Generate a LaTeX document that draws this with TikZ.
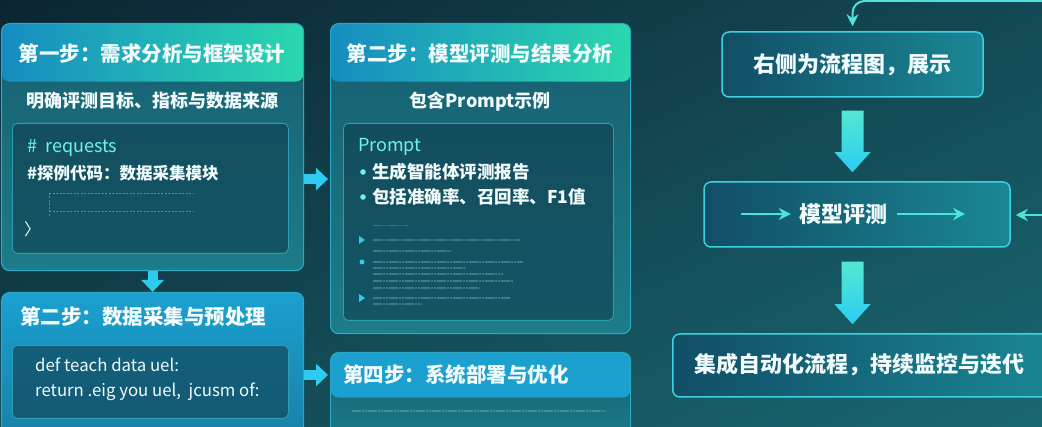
\documentclass[tikz,border=0pt]{standalone}
\usepackage{fontspec}
\setmainfont{Noto Sans CJK SC}
\usetikzlibrary{arrows.meta,calc}
\definecolor{bgtop}{HTML}{0A1D2B}
\definecolor{bgbot}{HTML}{1B7078}
\definecolor{cardtop}{HTML}{175E70}
\definecolor{cardbot}{HTML}{1C7C88}
\definecolor{cardedge}{HTML}{2AA8C4}
\definecolor{hdrleft}{HTML}{168CC0}
\definecolor{hdrright}{HTML}{2BD8AE}
\definecolor{bluetop}{HTML}{1BA0CF}
\definecolor{bluebot}{HTML}{1880A6}
\definecolor{codefill}{HTML}{0F3D4E}
\definecolor{codeedge}{HTML}{2F9CB4}
\definecolor{aqua}{HTML}{6FF2EA}
\definecolor{arrowcyan}{HTML}{2CCBEF}
\definecolor{fattop}{HTML}{55E6D2}
\definecolor{fatbot}{HTML}{2ACEF2}
\definecolor{flowedge}{HTML}{3CD2E4}
\definecolor{flowleft}{HTML}{114E66}
\definecolor{flowright}{HTML}{1A8794}
\definecolor{feedcyan}{HTML}{4DE3DA}
\definecolor{paper}{HTML}{F2FBFC}
\definecolor{ghost}{HTML}{8CC4D0}

\begin{document}
\begin{tikzpicture}[x=1pt, y=-1pt,
  card/.style={draw=cardedge, line width=1.2pt, rounded corners=8pt,
    top color=cardtop, bottom color=cardbot, inner sep=0pt, anchor=north west},
  header/.style={path picture={
    \shade[left color=hdrleft, right color=hdrright]
      (path picture bounding box.north west) rectangle
      ([yshift=-#1pt]path picture bounding box.north east);}},
  flatheader/.style={path picture={
    \fill[bluetop]
      (path picture bounding box.north west) rectangle
      ([yshift=-#1pt]path picture bounding box.north east);}},
  codebox/.style={draw=codeedge, line width=0.8pt, rounded corners=5pt,
    fill=codefill, fill opacity=0.6, inner sep=0pt, anchor=north west},
  cardtitle/.style={text=paper, font=\fontsize{20.5}{24}\selectfont\bfseries, inner sep=0pt},
  subtitle/.style={text=paper, font=\fontsize{18}{22}\selectfont\bfseries, inner sep=0pt},
  codeline/.style={text=paper, font=\fontsize{16.5}{20}\selectfont, inner sep=0pt, anchor=west},
  flowbox/.style={draw=flowedge, line width=1.5pt, rounded corners=7pt,
    left color=flowleft, right color=flowright, inner sep=0pt,
    text=paper, font=\fontsize{22}{26}\selectfont\bfseries},
  flowtext/.style={text=paper, font=\fontsize{22}{26}\selectfont\bfseries, inner sep=0pt},
  cardarrow/.style={draw=arrowcyan, line width=10pt,
    -{Triangle[length=12pt, width=22pt]}},
  feedarrow/.style={draw=feedcyan, line width=2pt,
    -{Stealth[length=12pt, width=12pt]}},
  ghosttext/.style={draw=ghost, draw opacity=0.35, line width=1.4pt,
    dash pattern=on 2.5pt off 0.7pt},
  faintdot/.style={draw=codeedge, line width=0.8pt, dash pattern=on 2pt off 1.5pt},
]
  \def\shaft{11}
  \def\head{18}
  \def\headlen{20}
  \useasboundingbox (0,0) rectangle (1042,427);
  \clip (0,0) rectangle (1042,427);
  \shade[top color=bgtop, bottom color=bgbot, shading angle=25]
    (-200,-200) rectangle (1242,627);

  % left column
  \node[card, header=58, minimum width=302, minimum height=247] (StepOne) at (1,23) {};
  \node[cardtitle] (StepOneTitle) at (152,54) {第一步：需求分析与框架设计};
  \node[subtitle] (StepOneSub) at (152,101) {明确评测目标、指标与数据来源};
  \node[codebox, minimum width=276, minimum height=130] (StepOneCode) at (12,123) {};
  \node[codeline, text=aqua, font=\fontsize{18}{21}\selectfont] (Requests) at (27,148) {\#\ \ requests};
  \node[codeline, font=\fontsize{16.5}{20}\selectfont\bfseries] (SampleCode) at (27,173) {\#探例代码：数据采集模块};
  \draw[faintdot] (49,193) -- (193,193) (49,211) -- (193,211) (49,193) -- (49,216);
  \node[codeline] (CloseMark) at (24,229) {〉};

  \node[card, top color=bluetop, bottom color=bluebot,
    minimum width=302, minimum height=150] (StepTwo) at (1,292) {};
  \node[cardtitle, anchor=west] (StepTwoTitle) at (20,317) {第二步：数据采集与预处理};
  \node[codebox, minimum width=276, minimum height=73] (StepTwoCode) at (12,345) {};
  \node[codeline, font=\fontsize{16.8}{20}\selectfont] (DefLine) at (35,365) {def teach data uel:};
  \node[codeline, font=\fontsize{16.8}{20}\selectfont] (ReturnLine) at (35,392) {return .eig you uel,\ \ jcusm of:};

  % middle column
  \node[card, header=58, minimum width=300, minimum height=310] (StepThree) at (330,23) {};
  \node[cardtitle] (StepThreeTitle) at (480,54) {第二步：模型评测与结果分析};
  \node[subtitle] (StepThreeSub) at (480,102) {包含Prompt示例};
  \node[codebox, minimum width=270, minimum height=197] (StepThreeCode) at (343,123) {};
  \node[codeline, text=aqua, font=\fontsize{18}{21}\selectfont] (PromptHead) at (358,147) {Prompt};
  \node[codeline, font=\fontsize{17.5}{21}\selectfont\bfseries] (BulletOne) at (372,172) {生成智能体评测报告};
  \node[codeline, font=\fontsize{17.5}{21}\selectfont\bfseries] (BulletTwo) at (372,197) {包括准确率、召回率、F1值};
  \fill[aqua] ([xshift=-9pt]BulletOne.west) circle [radius=2.8];
  \fill[aqua] ([xshift=-9pt]BulletTwo.west) circle [radius=2.8];
  \draw[ghosttext, line width=1pt] (373,226) -- (408,226);
  \draw[ghosttext]
    (373,240) -- (520,240) (373,251) -- (450,251)
    (373,262) -- (523,262) (373,268) -- (465,268) (373,274) -- (503,274)
    (373,281) -- (513,281) (373,288) -- (480,288)
    (373,298) -- (510,298) (373,304) -- (422,304);
  \fill[arrowcyan] (359,236) -- (365,240) -- (359,244) -- cycle;
  \fill[arrowcyan] (362,262) circle [radius=2.5];
  \fill[arrowcyan] (359,294) -- (365,298) -- (359,302) -- cycle;

  \node[card, flatheader=45, minimum width=300, minimum height=90] (StepFour) at (330,352) {};
  \node[cardtitle, anchor=west] (StepFourTitle) at (343,375) {第四步：系统部署与优化};
  \draw[ghosttext, line width=1.2pt] (352,411) -- (605,411);

  \draw[cardarrow] (StepOne.south) -- (StepTwo.north);
  \draw[cardarrow, shorten >=2pt] ([yshift=-32pt]StepOne.east) -- ([yshift=-32pt]StepOne.east -| StepThree.west);
  \draw[cardarrow, shorten >=2pt] (StepTwo.east |- StepFourTitle.west) -- (StepFour.west |- StepFourTitle.west);

  % right flow
  \node[flowbox, minimum width=261, minimum height=65] (ShowBox) at (852.5,64.5) {右侧为流程图，展示};
  \node[flowbox, minimum width=306, minimum height=65] (EvalBox) at (857,214.5) {};
  \node[flowtext] (EvalText) at (843,214) {模型评测};
  \node[flowbox, minimum width=390, minimum height=63, anchor=west] (LoopBox) at (672,365.5) {};
  \node[flowtext] (LoopText) at (859,365) {集成自动化流程，持续监控与迭代};

  % fat arrows, shaded top to bottom
  \shade[top color=fattop, bottom color=fatbot]
    ($(ShowBox.south)+(-\shaft,13)$) -- ($(ShowBox.south)+(\shaft,13)$)
    -- ($(ShowBox.south |- EvalBox.north)+(\shaft,-9-\headlen)$)
    -- ($(ShowBox.south |- EvalBox.north)+(\head,-9-\headlen)$)
    -- ($(ShowBox.south |- EvalBox.north)+(0,-9)$)
    -- ($(ShowBox.south |- EvalBox.north)+(-\head,-9-\headlen)$)
    -- ($(ShowBox.south |- EvalBox.north)+(-\shaft,-9-\headlen)$) -- cycle;
  \shade[top color=fattop, bottom color=fatbot]
    ($(ShowBox.south |- EvalBox.south)+(-\shaft,14)$) -- ($(ShowBox.south |- EvalBox.south)+(\shaft,14)$)
    -- ($(ShowBox.south |- LoopBox.north)+(\shaft,-9-\headlen)$)
    -- ($(ShowBox.south |- LoopBox.north)+(\head,-9-\headlen)$)
    -- ($(ShowBox.south |- LoopBox.north)+(0,-9)$)
    -- ($(ShowBox.south |- LoopBox.north)+(-\head,-9-\headlen)$)
    -- ($(ShowBox.south |- LoopBox.north)+(-\shaft,-9-\headlen)$) -- cycle;

  \draw[feedarrow] ([xshift=-58pt]EvalText.west) -- ([xshift=-8pt]EvalText.west);
  \draw[feedarrow] ([xshift=10pt]EvalText.east) -- ([xshift=78pt]EvalText.east);

  \coordinate (TopIn) at (1045,1);
  \coordinate (SideIn) at (1045,215);
  \draw[feedarrow, rounded corners=12pt, shorten >=5pt] (TopIn) -| (ShowBox.north);
  \draw[feedarrow, shorten >=5pt] (SideIn) -- (EvalBox.east |- SideIn);
\end{tikzpicture}
\end{document}
